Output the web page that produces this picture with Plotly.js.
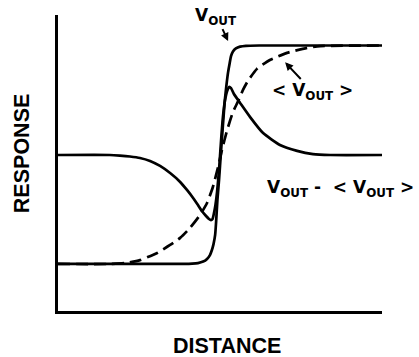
<!DOCTYPE html>
<html>
<head>
<meta charset="utf-8">
<script src="https://cdn.plot.ly/plotly-3.0.1.min.js"></script>
<style>
  html, body { margin: 0; padding: 0; background: #fff; }
  #chart { width: 419px; height: 357px; }
</style>
</head>
<body>
<div id="chart"></div>
<script>
// Output response across an edge (arbitrary units, distance 0-100, response 0-100)
const voutX = [0, 39.2, 41.4, 43.2, 44.8, 46.0, 46.9, 47.5, 48.0, 48.5, 48.8, 49.2, 49.7, 50.3, 50.9, 51.5, 52.0, 52.5, 53.0, 53.4, 54.0, 54.9, 56.2, 58.0, 62.3, 100];
const voutY = [15.9, 15.9, 16.0, 16.2, 16.7, 17.6, 18.9, 20.6, 22.6, 25.7, 30.1, 37.5, 44.3, 53.7, 62.8, 71.3, 76.4, 80.7, 83.8, 86.1, 87.7, 88.7, 89.3, 89.6, 89.7, 89.7];

// Local average of the output
const avgX = [0, 16.0, 20.7, 25.3, 30.6, 34.6, 37.7, 40.7, 43.8, 46.0, 47.8, 49.4, 50.6, 52.2, 54.0, 55.6, 57.1, 58.6, 61.4, 65.4, 70.7, 76.9, 80.9, 100];
const avgY = [15.9, 15.9, 16.2, 17.2, 19.6, 22.3, 24.7, 28.0, 32.4, 36.5, 41.9, 48.6, 54.4, 61.1, 67.2, 70.9, 74.7, 77.7, 81.8, 84.8, 87.2, 88.9, 89.5, 89.7];

// Output minus its local average (offset baseline)
const diffX = [0, 16.0, 19.1, 22.2, 25.3, 28.4, 31.5, 34.6, 37.7, 39.8, 41.7, 43.2, 44.4, 45.7, 46.6, 47.2, 47.7, 48.1, 48.6, 49.1, 49.7, 50.3, 50.9, 51.5, 52.2, 52.8, 53.4, 54.3, 56.2, 59.3, 63.3, 68.5, 73.8, 78.7, 84.0, 100];
const diffY = [52.7, 52.7, 52.5, 52.2, 51.7, 50.7, 49.0, 46.6, 43.6, 40.9, 38.2, 35.8, 33.8, 32.1, 31.1, 30.7, 31.1, 32.8, 35.8, 40.2, 47.6, 57.1, 65.5, 70.9, 74.3, 75.7, 75.3, 73.3, 70.3, 65.5, 60.1, 56.1, 54.1, 53.0, 52.7, 52.7];

const labelVout = 'V<sub>OUT</sub>';
const labelAvg = '&lt; V<sub>OUT</sub> &gt;';
const labelDiff = 'V<sub>OUT</sub> -  &lt; V<sub>OUT</sub> &gt;';
const titleX = 'DISTANCE';
const titleY = 'RESPONSE';

const ink = '#000';
const titleFam = '"Liberation Sans", Arial, Helvetica, sans-serif';
const labelFam = '"DejaVu Sans", Verdana, sans-serif';

const curve = { color: ink, width: 2.7, shape: 'spline', smoothing: 0.5 };

const traces = [
  { x: voutX, y: voutY, mode: 'lines', name: 'Vout', line: curve, hoverinfo: 'skip' },
  { x: diffX, y: diffY, mode: 'lines', name: 'Vout - <Vout>', line: curve, hoverinfo: 'skip' },
  { x: avgX, y: avgY, mode: 'lines', name: '<Vout>',
    line: Object.assign({}, curve, { dash: '12px,6px' }), hoverinfo: 'skip' }
];

const txtFont = { family: labelFam, size: 17, color: ink, weight: 'bold' };
const titleFont = { family: titleFam, size: 21.5, color: ink, weight: 'bold' };

const layout = {
  width: 419, height: 357,
  margin: { l: 58, r: 37, t: 15, b: 46, pad: 0 },
  paper_bgcolor: '#fff', plot_bgcolor: '#fff',
  showlegend: false,
  xaxis: { range: [0, 100], showline: true, linecolor: ink, linewidth: 2.7,
           showgrid: false, zeroline: false, showticklabels: false, ticks: '', fixedrange: true },
  yaxis: { range: [0, 100], showline: true, linecolor: ink, linewidth: 2.7,
           showgrid: false, zeroline: false, showticklabels: false, ticks: '', fixedrange: true },
  annotations: [
    { xref: 'paper', yref: 'paper', x: 0.522, y: -0.117, text: titleX, showarrow: false,
      xanchor: 'center', yanchor: 'middle', font: titleFont },
    { xref: 'paper', yref: 'paper', x: -0.111, y: 0.53, text: titleY, showarrow: false,
      textangle: -90, xanchor: 'center', yanchor: 'middle', font: titleFont },
    // V_OUT label with its pointer to the step
    { x: 52.5, y: 91.2, ax: 48.9, ay: 99.6, axref: 'x', ayref: 'y', text: labelVout,
      showarrow: true, arrowhead: 2, arrowsize: 0.8, arrowwidth: 2, arrowcolor: ink, font: txtFont },
    // <V_OUT> label with its pointer to the dashed average
    { x: 70.1, y: 84.0, ax: 78.7, ay: 74.0, axref: 'x', ayref: 'y', text: labelAvg,
      showarrow: true, arrowhead: 2, arrowsize: 0.8, arrowwidth: 2, arrowcolor: ink, font: txtFont },
    { x: 87.3, y: 41.5, text: labelDiff, showarrow: false, xanchor: 'center', yanchor: 'middle', font: txtFont }
  ]
};

Plotly.newPlot('chart', traces, layout, { staticPlot: true, displayModeBar: false });
</script>
</body>
</html>
